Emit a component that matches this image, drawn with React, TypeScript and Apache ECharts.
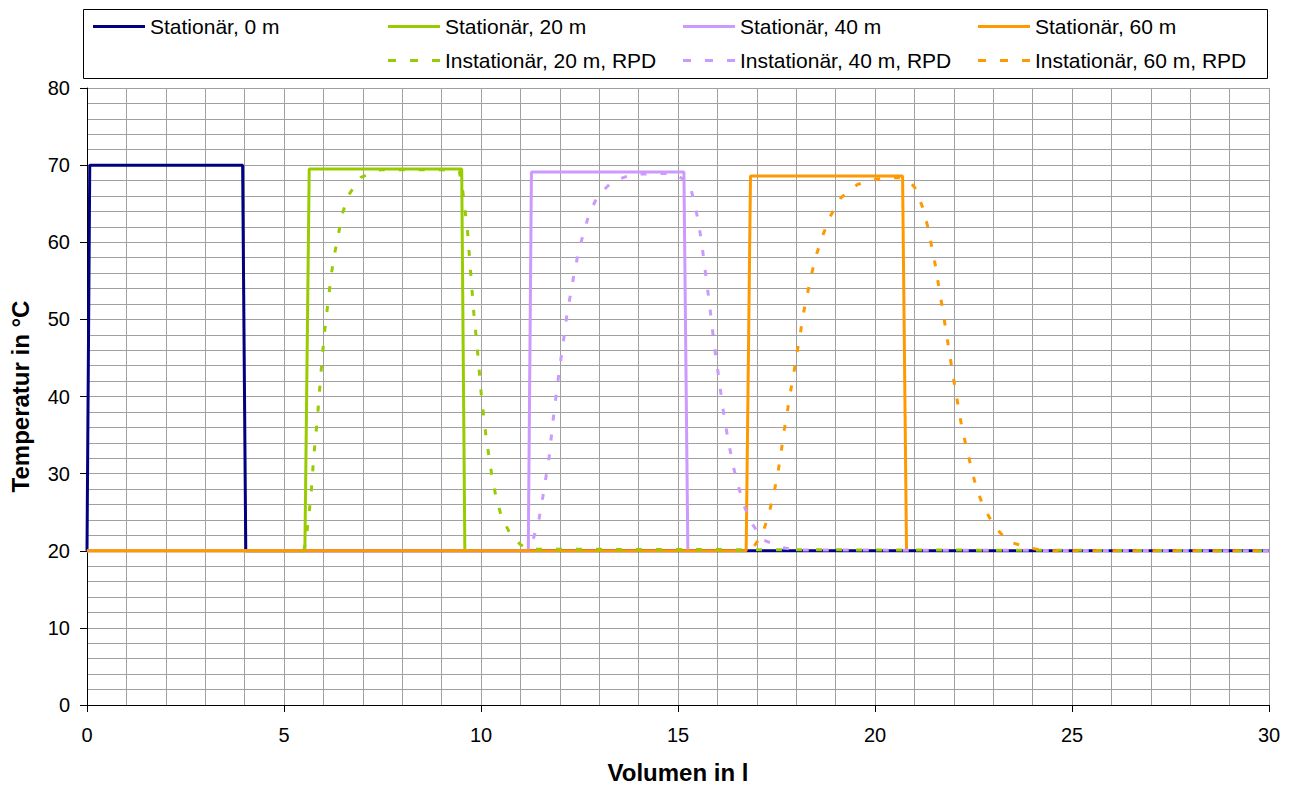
import React, { useEffect, useRef } from "react";
import * as echarts from "echarts";

// Stationär, 0 m
const st0X = [0, 0.07, 3.95, 4.03, 30];
const st0Y = [20, 70, 70, 20, 20];
// Stationär, 20 m
const st20X = [0, 5.53, 5.64, 9.51, 9.59];
const st20Y = [20, 20, 69.5, 69.5, 20];
// Stationär, 40 m
const st40X = [0, 11.2, 11.28, 15.15, 15.25];
const st40Y = [20, 20, 69.1, 69.1, 20];
// Stationär, 60 m
const st60X = [0, 16.73, 16.84, 20.7, 20.8];
const st60Y = [20, 20, 68.6, 68.6, 20];
// Instationär, 20 m, RPD
const in20X = [5.5, 5.56, 5.62, 5.68, 5.75, 5.85, 5.93, 6.02, 6.08, 6.14, 6.2, 6.28, 6.38, 6.48, 6.65, 6.95, 7.44, 8.0, 8.5, 9.0, 9.45, 9.54, 9.6, 9.66, 9.74, 9.82, 9.92, 10.01, 10.13, 10.28, 10.38, 10.52, 10.75, 11.0, 11.2, 30];
const in20Y = [20, 21.4, 24.2, 26.8, 31.9, 37.3, 42.6, 47.9, 50.6, 53.2, 55.8, 58.4, 61.0, 63.7, 66.2, 68.4, 69.4, 69.4, 69.4, 69.4, 69.2, 66.5, 63.9, 61.3, 55.9, 50.7, 45.4, 40.1, 34.7, 29.6, 27.0, 24.4, 22.1, 20.8, 20.2, 20];
// Instationär, 40 m, RPD
const in40X = [11.2, 11.35, 11.48, 11.57, 11.65, 11.73, 11.84, 11.97, 12.04, 12.11, 12.18, 12.27, 12.36, 12.46, 12.59, 12.74, 12.96, 13.34, 13.85, 14.4, 14.9, 15.29, 15.41, 15.52, 15.6, 15.67, 15.73, 15.8, 15.86, 15.92, 15.99, 16.06, 16.13, 16.21, 16.3, 16.4, 16.53, 16.68, 16.88, 17.16, 17.67, 18.0, 30];
const in40Y = [20, 21.9, 24.3, 27.0, 29.6, 32.2, 37.4, 42.7, 45.3, 47.9, 50.6, 53.2, 55.8, 58.4, 61.0, 63.6, 66.0, 67.9, 68.8, 68.9, 68.9, 67.7, 65.2, 62.6, 59.9, 57.2, 54.7, 52.0, 49.3, 46.6, 44.1, 41.5, 38.8, 36.2, 33.6, 31.0, 28.4, 25.8, 23.5, 21.4, 20.4, 20.1, 20];
// Instationär, 60 m, RPD
const in60X = [16.85, 17.14, 17.29, 17.42, 17.52, 17.61, 17.67, 17.76, 17.84, 17.93, 18.01, 18.1, 18.18, 18.28, 18.39, 18.52, 18.69, 18.88, 19.14, 19.56, 20.04, 20.59, 20.85, 21.01, 21.21, 21.34, 21.44, 21.54, 21.62, 21.71, 21.79, 21.87, 21.95, 22.03, 22.12, 22.21, 22.33, 22.45, 22.58, 22.77, 23.03, 23.38, 23.9, 24.3, 30];
const in60Y = [20, 22.1, 24.5, 27.1, 29.7, 32.4, 34.9, 37.5, 40.2, 42.7, 45.4, 48.0, 50.7, 53.2, 55.9, 58.5, 61.1, 63.5, 65.8, 67.5, 68.2, 68.4, 68.0, 67.1, 64.5, 62.0, 59.4, 56.8, 54.2, 51.5, 48.9, 46.3, 43.7, 41.2, 38.5, 35.8, 33.2, 30.6, 28.0, 25.5, 23.2, 21.2, 20.4, 20.0, 20];

const xTicks = { min: 0, max: 30, interval: 5 };
const yTicks = { min: 0, max: 80, interval: 10 };

const NAVY = "#000080";
const GREEN = "#99CC00";
const LAV = "#CC99FF";
const ORANGE = "#FF9900";
const FONT = "'Liberation Sans', Arial, sans-serif";

const SOLID_ICON = "rect";
const DASH_ICON = "path://M0,0h8v3h-8zM22,0h8v3h-8zM44,0h8v3h-8z";

const zip = (xs: number[], ys: number[]) => xs.map((x, i) => [x, ys[i]]);

export default function App() {
  const ref = useRef<HTMLDivElement>(null);
  useEffect(() => {
    document.body.style.margin = "0";
    const chart = echarts.init(ref.current!, undefined, { renderer: "svg" });
    const solid = (name: string, color: string, xs: number[], ys: number[], w = 3) => ({
      name,
      type: "line",
      data: zip(xs, ys),
      symbol: "none",
      smooth: false,
      lineStyle: { color, width: w, type: "solid" },
      itemStyle: { color },
      z: 2,
    });
    const dashed = (name: string, color: string, xs: number[], ys: number[], off: number) => ({
      name,
      type: "line",
      data: zip(xs, ys),
      symbol: "none",
      smooth: false,
      lineStyle: { color, width: 3, type: [6, 14], dashOffset: off },
      itemStyle: { color },
      z: 3,
    });
    const leg = (name: string, left: number, top: number, dash: boolean) => ({
      data: [{ name, icon: dash ? DASH_ICON : SOLID_ICON }],
      left,
      top,
      itemWidth: 52,
      itemHeight: 3,
      padding: 0,
      selectedMode: false,
      textStyle: { fontSize: 21, color: "#000", fontFamily: FONT },
    });
    chart.setOption({
      animation: false,
      tooltip: { show: false },
      grid: { left: 87, right: 21, top: 88, bottom: 79, containLabel: false },
      legend: [
        leg("Stationär, 0 m", 93, 16, false),
        leg("Stationär, 20 m", 388, 16, false),
        leg("Stationär, 40 m", 683, 16, false),
        leg("Stationär, 60 m", 978, 16, false),
        leg("Instationär, 20 m, RPD", 388, 50, true),
        leg("Instationär, 40 m, RPD", 683, 50, true),
        leg("Instationär, 60 m, RPD", 978, 50, true),
      ],
      graphic: [
        {
          type: "rect",
          shape: { x: 83.5, y: 9.5, width: 1184, height: 69 },
          style: { fill: "none", stroke: "#000", lineWidth: 1 },
          z: 10,
        },
      ],
      xAxis: {
        type: "value",
        ...xTicks,
        name: "Volumen in l",
        nameLocation: "middle",
        nameGap: 55,
        nameTextStyle: { fontSize: 24, fontWeight: "bold", color: "#000", fontFamily: FONT },
        axisLine: { show: true, onZero: false, lineStyle: { color: "#000", width: 1 } },
        axisTick: { show: true, length: 7, inside: false, lineStyle: { color: "#000" } },
        axisLabel: { fontSize: 20, color: "#000", margin: 20, fontFamily: FONT },
        splitLine: { show: true, lineStyle: { color: "#a0a0a0", width: 1 } },
        minorTick: { show: false, splitNumber: 5 },
        minorSplitLine: { show: true, lineStyle: { color: "#a0a0a0", width: 1 } },
      },
      yAxis: {
        type: "value",
        ...yTicks,
        name: "Temperatur in °C",
        nameLocation: "middle",
        nameRotate: 90,
        nameGap: 55,
        nameTextStyle: { fontSize: 24, fontWeight: "bold", color: "#000", fontFamily: FONT },
        axisLine: { show: true, lineStyle: { color: "#000", width: 1 } },
        axisTick: { show: true, length: 7, inside: false, lineStyle: { color: "#000" } },
        axisLabel: { fontSize: 20, color: "#000", margin: 17, fontFamily: FONT },
        splitLine: { show: true, lineStyle: { color: "#a0a0a0", width: 1 } },
        minorTick: { show: false, splitNumber: 5 },
        minorSplitLine: { show: true, lineStyle: { color: "#a0a0a0", width: 1 } },
      },
      series: [
        solid("Stationär, 0 m", NAVY, st0X, st0Y, 3),
        solid("Stationär, 20 m", GREEN, st20X, st20Y),
        solid("Stationär, 40 m", LAV, st40X, st40Y),
        solid("Stationär, 60 m", ORANGE, st60X, st60Y),
        dashed("Instationär, 20 m, RPD", GREEN, in20X, in20Y, 0),
        dashed("Instationär, 40 m, RPD", LAV, in40X, in40Y, 7),
        dashed("Instationär, 60 m, RPD", ORANGE, in60X, in60Y, 14),
      ],
    });
    return () => chart.dispose();
  }, []);
  return <div ref={ref} style={{ width: 1290, height: 789 }} />;
}
